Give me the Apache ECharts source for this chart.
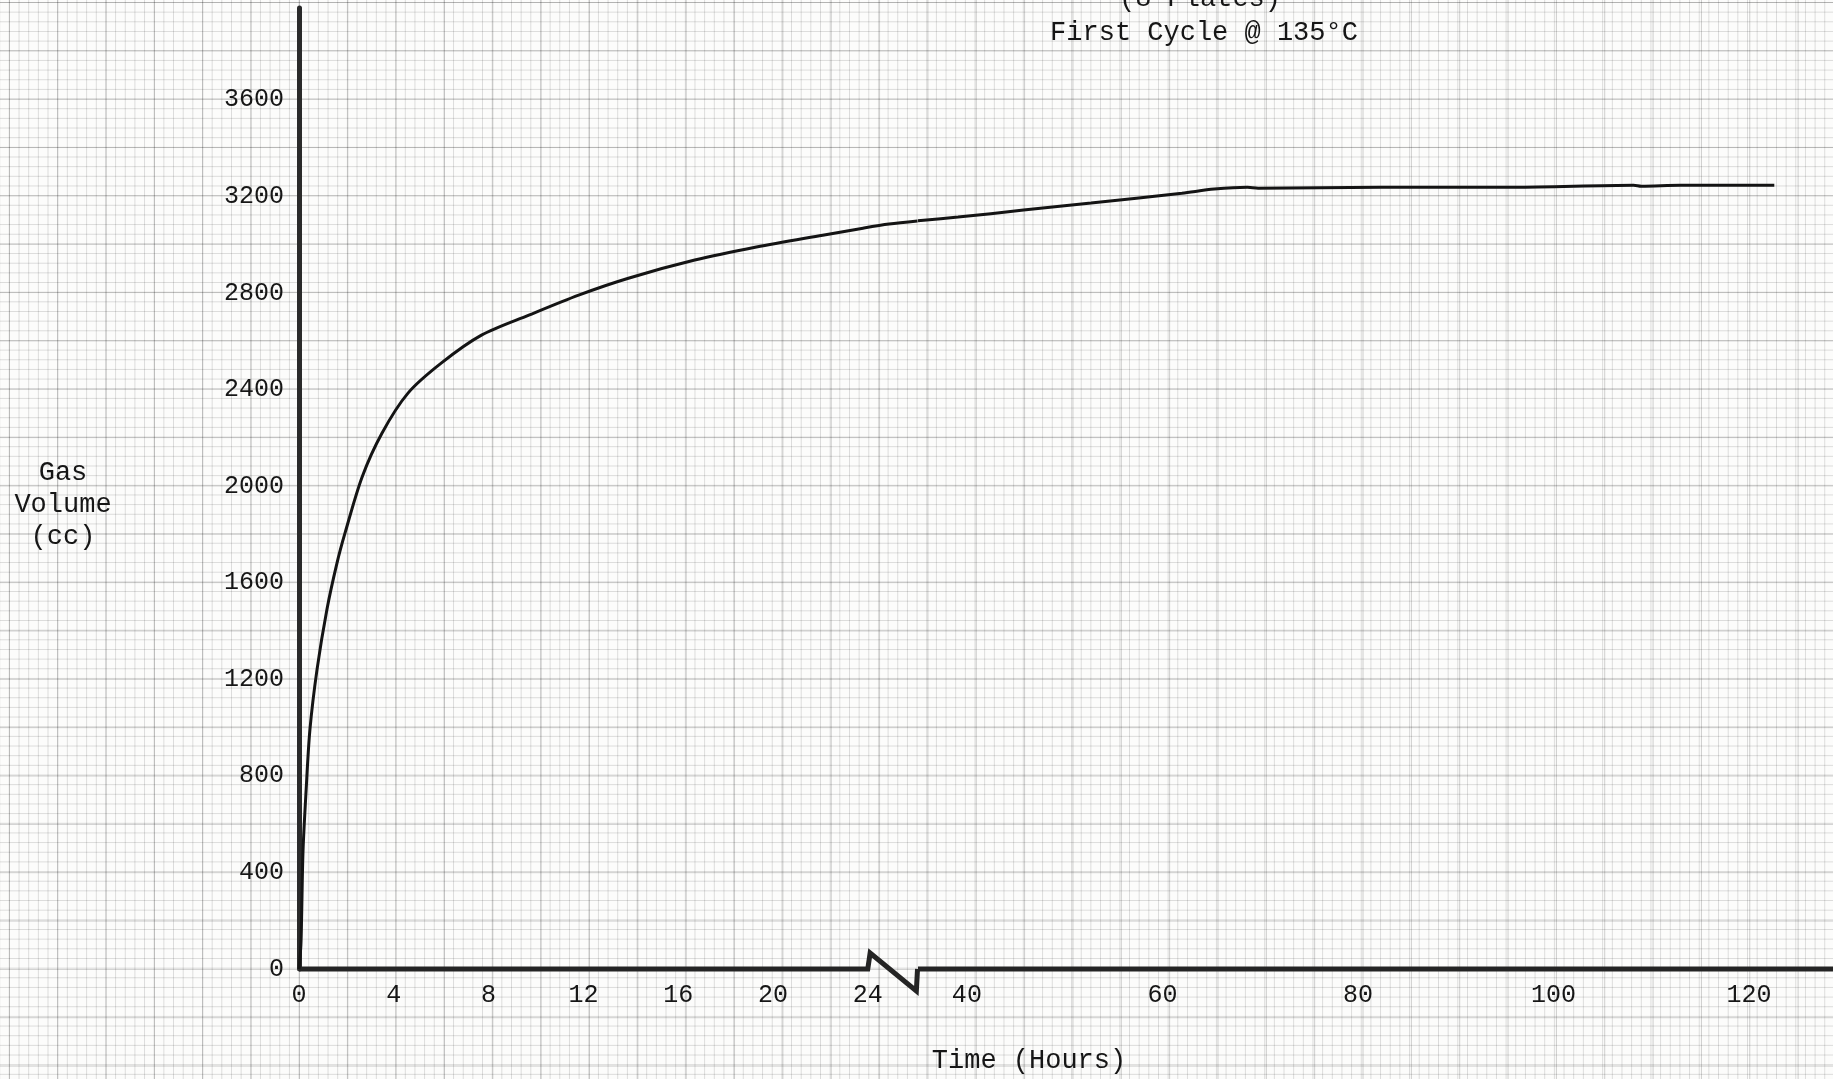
<!DOCTYPE html>
<html>
<head>
<meta charset="utf-8">
<script src="https://cdn.jsdelivr.net/npm/echarts@6/dist/echarts.min.js"></script>
<style>
html,body{margin:0;padding:0;}
body{
  width:1833px;height:1079px;overflow:hidden;background-color:#fcfcfb;
  background-image:
    linear-gradient(to right, rgba(0,0,0,0.19) 1px, transparent 1px),
    linear-gradient(to bottom, rgba(0,0,0,0.19) 1px, transparent 1px),
    linear-gradient(to right, rgba(0,0,0,0.13) 1px, transparent 1px),
    linear-gradient(to bottom, rgba(0,0,0,0.13) 1px, transparent 1px);
  background-size:48.35px 48.35px,48.35px 48.35px,9.67px 9.67px,9.67px 9.67px;
  background-position:8.9px 2px,8.9px 2px,8.9px 2px,8.9px 2px;
}
#chart{width:1833px;height:1079px;}
</style>
</head>
<body>
<div id="chart"></div>
<script>
// ---- tick labels ----
const yTickLabels = [0, 400, 800, 1200, 1600, 2000, 2400, 2800, 3200, 3600];
const xTickLabelsEarly = [0, 4, 8, 12, 16, 20, 24];
const xTickLabelsLate = [40, 60, 80, 100, 120];

// ---- gas volume curve, first 24 h (hours, cc) ----
const hoursEarly = [0, 0.08, 0.11, 0.17, 0.3, 0.46, 0.76, 1.18, 1.6, 1.94, 2.66, 3.5, 4.6, 6.0, 7.7, 9.7, 11.8, 13.9, 16.7, 19.3, 22.1, 23.8, 24.9, 26.1];
const volumeEarly = [0, 100, 215, 490, 740, 990, 1240, 1490, 1680, 1805, 2037, 2219, 2385, 2509, 2625, 2708, 2791, 2861, 2936, 2990, 3039, 3068, 3085, 3098];

// ---- gas volume curve, after the axis break (hours, cc) ----
const hoursLate = [35, 39.1, 45.8, 52.7, 62.0, 65.3, 68.7, 69.8, 82.4, 96, 108.2, 109, 113, 122.6];
const volumeLate = [3099, 3114, 3143, 3172, 3213, 3230, 3238, 3234, 3238, 3238, 3246, 3242, 3246, 3246];

// ---- thick zero line with the break zig-zag ----
const baseHoursEarly = [0, 24, 24.1, 26.05, 26.1];
const baseLevelsEarly = [0, 0, 66, -91, 0];
const baseHoursLate = [35, 128.8];
const baseLevelsLate = [0, 0];

const zip = (a, b) => a.map((v, i) => [v, b[i]]);

const MONO = '"Liberation Mono", "DejaVu Sans Mono", monospace';
const INK = '#161616';
const labelStyle = { fontFamily: MONO, fontSize: 25, color: INK };

const chart = echarts.init(document.getElementById('chart'), null, { renderer: 'canvas' });

const option = {
  backgroundColor: 'transparent',
  animation: false,
  grid: [
    { left: 299, width: 619, top: 8, bottom: 110 },
    { left: 918, right: 2, top: 8, bottom: 110 }
  ],
  xAxis: [
    {
      type: 'value', gridIndex: 0, min: 0, max: 26.12, interval: 4,
      axisLine: { show: false }, axisTick: { show: false }, splitLine: { show: false },
      axisLabel: Object.assign({}, labelStyle, {
        margin: 14, showMaxLabel: false,
        formatter: v => xTickLabelsEarly.includes(v) ? String(v) : ''
      })
    },
    {
      type: 'value', gridIndex: 1, min: 35, max: 128.4, interval: 5,
      axisLine: { show: false }, axisTick: { show: false }, splitLine: { show: false },
      axisLabel: Object.assign({}, labelStyle, {
        margin: 14, showMaxLabel: false, showMinLabel: false,
        formatter: v => xTickLabelsLate.includes(v) ? String(v) : ''
      })
    }
  ],
  yAxis: [
    {
      type: 'value', gridIndex: 0, min: 0, max: 3980, interval: 400,
      axisLine: { show: true, lineStyle: { color: '#2a2a2a', width: 5 } },
      axisTick: { show: false }, splitLine: { show: false },
      axisLabel: Object.assign({}, labelStyle, {
        margin: 15, showMaxLabel: false,
        formatter: v => yTickLabels.includes(v) ? String(v) : ''
      })
    },
    {
      type: 'value', gridIndex: 1, min: 0, max: 3980, interval: 400, show: false
    }
  ],
  series: [
    {
      name: 'baseline-early', type: 'line', xAxisIndex: 0, yAxisIndex: 0,
      data: zip(baseHoursEarly, baseLevelsEarly), symbol: 'none', clip: false,
      lineStyle: { color: '#242424', width: 5, join: 'miter' }, z: 3
    },
    {
      name: 'baseline-late', type: 'line', xAxisIndex: 1, yAxisIndex: 1,
      data: zip(baseHoursLate, baseLevelsLate), symbol: 'none', clip: false,
      lineStyle: { color: '#242424', width: 5 }, z: 3
    },
    {
      name: 'Gas Volume (0-24 h)', type: 'line', xAxisIndex: 0, yAxisIndex: 0,
      data: zip(hoursEarly, volumeEarly), symbol: 'none', smooth: 0.3,
      clip: false, lineStyle: { color: '#141414', width: 3 }, z: 4
    },
    {
      name: 'Gas Volume (35+ h)', type: 'line', xAxisIndex: 1, yAxisIndex: 1,
      data: zip(hoursLate, volumeLate), symbol: 'none', smooth: 0.3,
      clip: false, lineStyle: { color: '#141414', width: 3 }, z: 4
    }
  ],
  graphic: [
    { type: 'text', x: 1200, y: -1, style: { text: '(8 Plates)', fontFamily: MONO, fontSize: 27, fill: INK, align: 'center', verticalAlign: 'middle' } },
    { type: 'text', x: 1204, y: 33, style: { text: 'First Cycle @ 135°C', fontFamily: MONO, fontSize: 27, fill: INK, align: 'center', verticalAlign: 'middle' } },
    { type: 'text', x: 63, y: 505, style: { text: 'Gas\nVolume\n(cc)', fontFamily: MONO, fontSize: 27, lineHeight: 32, fill: INK, align: 'center', verticalAlign: 'middle' } },
    { type: 'text', x: 1029, y: 1061, style: { text: 'Time (Hours)', fontFamily: MONO, fontSize: 27, fill: INK, align: 'center', verticalAlign: 'middle' } }
  ]
};

chart.setOption(option);
</script>
</body>
</html>
